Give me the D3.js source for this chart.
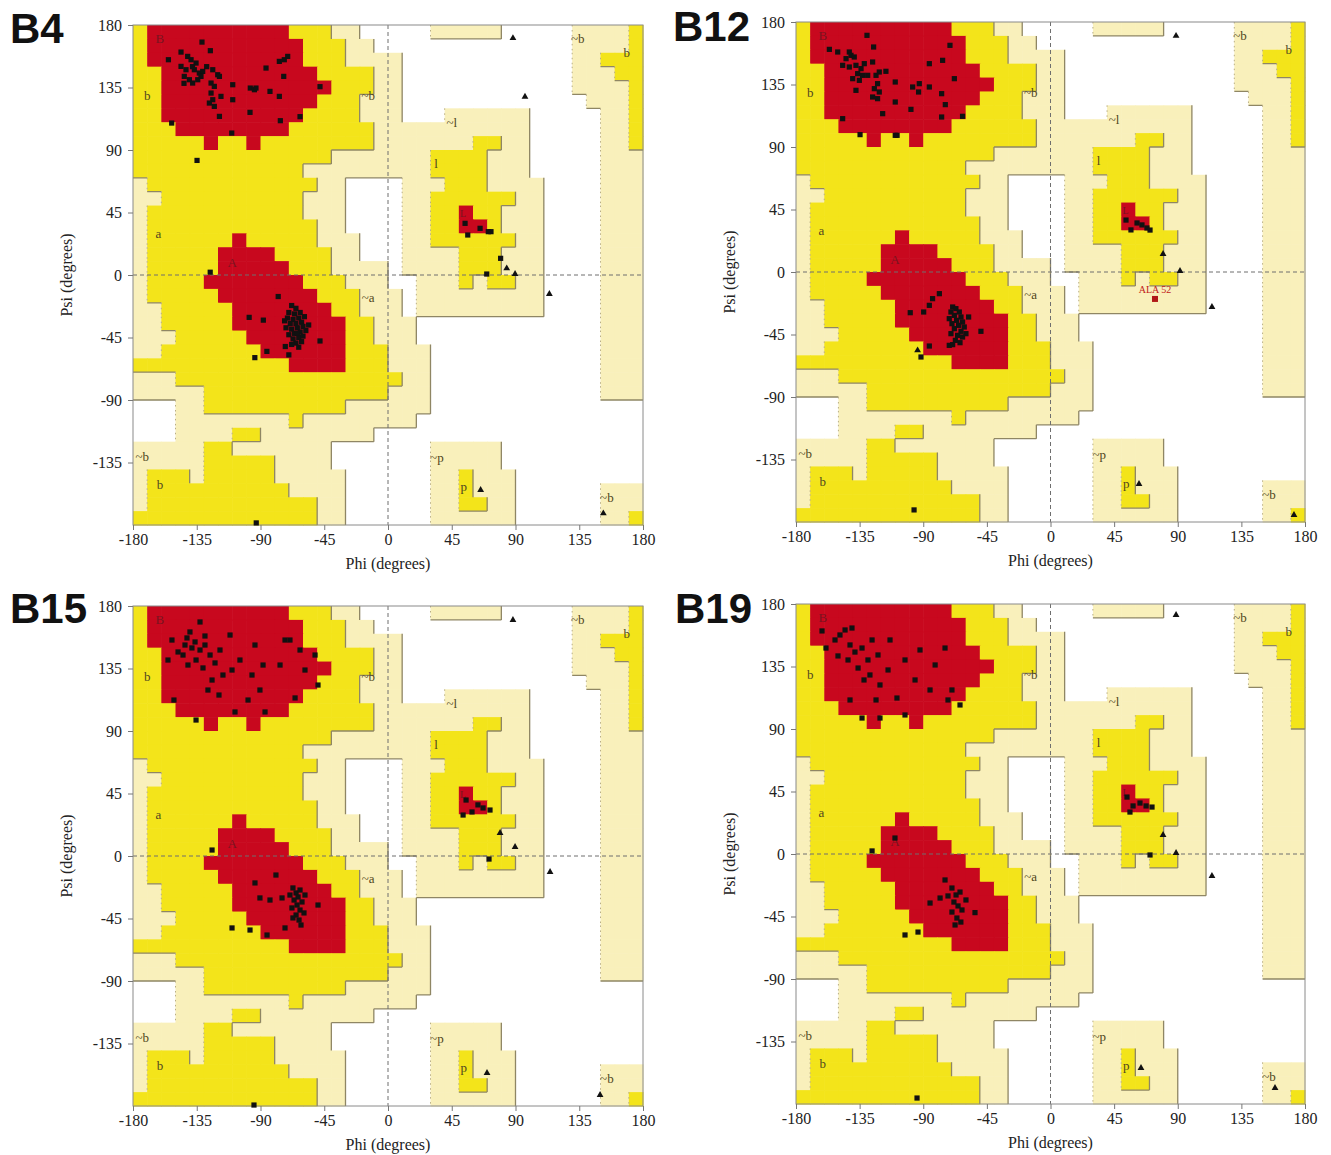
<!DOCTYPE html>
<html><head><meta charset="utf-8">
<script src="https://cdn.jsdelivr.net/npm/d3@7"></script>
<style>body{margin:0;background:#fff}svg{display:block}</style>
</head><body>
<svg id="c" width="1331" height="1155"></svg>
<script>
// ---------- data ----------
// Ramachandran region map, 10-degree cells, run-length coded.
// Rows: psi 180 -> -180, columns: phi -180 -> 180.
// '.' disallowed, 'g' generously allowed, 'y' additionally allowed, 'r' most favoured
const regionRows = [
"y1r10y3g2.5g5.5g4y1",
"y1r11y3g2.14g4y1",
"y1r11y3g4.12g2y3",
"y2r11y4g2.12g3y2",
"y2r12y3g2.12g4y1",
"y2r11y3g3.13g3y1",
"y2r10y4g3.3g6.5g2y1",
"y3r8y6g11.5g2y1",
"y5r1y2r1y8g7y2g2.5g2y1",
"y14g7y4g3.5g3",
"y12g9y4g3.5g3",
"g1y12g2.4g3y3g4.4g3",
"g2y10g3.4g2y6g2.4g3",
"g1y11g3.4g2y2r1y2g3.4g3",
"g1y12g2.4g2y2r2y1g3.4g3",
"g1y6r1y5g3.3g2y6g2.4g3",
"g1y5r4y4g2.3g4y3g3.4g3",
"g1y5r5y3g4.1g4y3g3.4g3",
"g1y4r7y3g3.2g3y1g1y2g2.4g3",
"g1y5r7y3g3.1g9.4g3",
"g2y5r7y2g3.1g9.4g3",
"g2y5r8y2g3.13g3",
"g3y5r7y2g3.13g3",
"g2y7r6y3g3.12g3",
"y11r4y3g3.12g3",
"g3y16g2.12g3",
"g5y13g3.12g3",
".3g2y10g6.15",
".3g8y1g8.16",
".3g4y2g8.19",
"g5y2g7.7g5.10",
"g5y5g4.7g5.10",
"g1y3g1y5g5.6g2y1g3.9",
"g1y10g4.6g2y1g3.6g3",
"g1y12g2.6g2y2g2.6g3",
"y13g2.6g6.6g2y1"
];

const phiTicks = [-180, -135, -90, -45, 0, 45, 90, 135, 180];
const psiTicks = [180, 135, 90, 45, 0, -45, -90, -135];

// region labels: [phi, psi, text]
const regionLabels = [
  [-161, 170.5, "B"], [-170, 129.5, "b"], [-162, 30, "a"], [-110, 9, "A"],
  [-14, 129.5, "~b"], [-14, -16, "~a"], [45, 110, "~l"], [34, 80.5, "l"],
  [53, 44.5, "L"], [34.5, -131.5, "~p"], [53.5, -152.5, "p"],
  [134, 170.5, "~b"], [168.5, 160, "b"], [154.5, -160.5, "~b"],
  [-173.5, -130.5, "~b"], [-161, -150.5, "b"]
];

// ---- B4 ----
const b4Residues = [
  [-131.3,167.7],[-125.4,161.5],[-146.1,160.5],[-155,155],[-141.4,157.4],[-139,155],[-135.5,152.6],
  [-146.1,150.2],[-142.6,147.8],[-136.7,147.8],[-133.2,145.4],[-130.8,146.6],[-143.8,143],[-140.2,140.6],
  [-137.9,138.2],[-134.3,140.6],[-132,143],[-123.7,147.8],[-124.9,138.2],[-122.6,135.8],[-120.2,144.2],
  [-119,143],[-124.9,131],[-123.7,126.2],[-126.1,123.8],[-122.6,121.4],[-117.9,128.6],[-119,114.2],
  [-109.6,137],[-109.6,126.2],[-97.2,134.6],[-94.3,133.4],[-93.2,134.6],[-86.1,149],[-83.3,132.2],
  [-76.7,128.6],[-76.7,153.8],[-73.2,155],[-70.8,157.4],[-73.6,143],[-97.4,117.1],[-76,111.1],
  [-110.3,102.2],[-152.7,109.4],[-134.8,82.5],[-62.1,114],[-48,135.6],[-138,150],[-128,150],[-144,138],
  [-68,-22],[-65,-24],[-70,-27],[-66,-28],[-62,-27],[-71,-31],[-67,-32],[-63,-31],[-59,-30],[-69,-35],
  [-65,-35],[-61,-34],[-72,-38],[-68,-39],[-64,-38],[-60,-37],[-66,-42],[-62,-41],[-70,-43],[-58,-40],
  [-67,-46],[-63,-45],[-60,-44],[-65,-49],[-61,-48],[-68,-50],[-63,-52],[-56,-36],[-73,-33],[-64,-42],
  [-77.5,-15.5],[-98,-30.5],[-88,-32.5],[-48,-47.5],[-85.5,-55],[-72.5,-51.5],[-70,-57.5],[-94,-59.5],
  [-125.5,2],[-93,-178.5],
  [54.4,37.2],[56.3,28.8],[65,33.6],[70.8,31.2],[72.7,31.2],[79.5,12],[69.7,0.7]
];
const b4Glycines = [[83.8,4.8],[89.7,0.7],[88.2,170.6],[96.7,128.4],[113.9,-13.7],[65.4,-154.8],[152,-171.6]];
const b4Outliers = [];

// ---- B12 ----
const b12Residues = [
  [-129.8,170.4],[-125.1,162],[-156.4,160.3],[-150.5,158.4],[-142.3,158.4],[-141.1,156],[-144.6,153.6],
  [-138.8,154.8],[-147,148.8],[-142.3,147.6],[-137.6,148.8],[-134,146.4],[-131.7,150],[-136.4,142.8],
  [-132.9,141.6],[-139.9,139.2],[-135.2,138],[-129.3,141.6],[-125.8,151.2],[-123.4,141.6],[-121.1,144],
  [-116.4,144.5],[-122.3,135.6],[-124.6,132],[-121.1,129.6],[-122.3,124.8],[-125.8,126],[-137.6,130.8],
  [-118.7,114],[-109.8,136.8],[-109.8,122.4],[-98.7,117.1],[-97.5,133.2],[-92.8,135.6],[-93.3,129.6],
  [-85.7,133.2],[-85.7,150],[-76.3,152.4],[-71.1,163.2],[-68,139.2],[-77,128.4],[-74.4,120.5],
  [-77,111.6],[-62.2,112.1],[-147,110.4],[-134.7,98.9],[-109.8,98.4],[-108.5,98.4],
  [-78.6,-15.6],[-83.4,-19.2],[-85.7,-24],[-89.7,-28.8],[-99.2,-29.3],[-57.9,-32.4],[-49.2,-42.7],
  [-85.7,-53.3],[-71.6,-52.8],[-91.6,-61.2],
  [-69.2,-25.2],[-66.9,-26.4],[-70.4,-28.8],[-64.5,-28.8],[-68,-31.2],[-63.3,-32.4],[-71.6,-33.6],
  [-66.4,-34.8],[-62.2,-36],[-69.7,-37.2],[-65,-38.4],[-61,-39.6],[-68,-40.8],[-63.3,-42.7],
  [-70.4,-44.4],[-65.7,-45.6],[-62.2,-46.8],[-67.3,-49.2],[-64,-50.9],[-69.2,-52.3],[-59.8,-44.4],
  [53.4,37.4],[56.9,30.3],[61.2,35.3],[64.7,33.9],[68.2,31.7],[70.4,30.2],[-96.5,-171.3]
];
const b12Glycines = [[-94,-56.4],[79.6,13],[91.6,0.7],[114.2,-25.2],[88.8,170],[62.6,-152.6],[172.2,-174.9]];
const b12Outliers = [[73.9,-19.4,"ALA 52"]];

// ---- B15 ----
const b15Residues = [
  [-132.7,168.5],[-139.8,161.3],[-129.2,158.4],[-152.5,155.5],[-143.3,151.9],[-138.4,149.8],[-132.7,148.3],
  [-125.6,144.7],[-135.5,141.1],[-141.2,137.5],[-148.2,146.9],[-155.3,141.1],[-130.6,135.4],[-122.1,139],
  [-118.6,148.3],[-116.5,130.3],[-124.2,126.7],[-127.1,119.5],[-119.3,115.9],[-110.1,133.9],[-104.5,141.1],
  [-96,130.3],[-90.4,119.5],[-98.8,112.3],[-88.2,137.5],[-76.2,137.5],[-69.2,155.5],[-62.1,148.3],
  [-51.5,144.7],[-58.6,133.9],[-65.6,113.8],[-49.4,123.1],[-151.1,112.3],[-135.5,97.9],[-108,103.7],
  [-86.8,103.7],[-72.7,155.5],[-111.5,159.1],[-93.9,151.9],[-144.7,144.7],[-136.2,154.1],[-141.9,157],
  [-129.2,151.9],
  [-124.2,4.3],[-67.1,-23],[-64.9,-26.6],[-62.1,-24.5],[-63.5,-29.5],[-66.3,-31.7],[-60.7,-33.1],
  [-64.2,-35.3],[-62.1,-38.9],[-67.8,-37.4],[-59.3,-41],[-64.9,-42.5],[-62.8,-46.1],[-67.1,-44.6],
  [-61.4,-49.7],[-58.6,-28.1],[-69.2,-28.1],[-74.8,-30.2],[-83.3,-31.7],[-90.4,-30.2],[-49.4,-35.3],
  [-97.4,-53.3],[-110.1,-51.8],[-85.4,-56.9],[-72.7,-51.8],[-79.1,-13.7],[-93.9,-19.4],
  [55.1,40.3],[59.3,31.7],[63.5,36.8],[67.1,34.6],[72,33.1],[53,29.5],[71.3,-2.2],[-94.6,-179.3]
];
const b15Glycines = [[79.1,16.6],[89.7,6.5],[114.4,-11.5],[88.2,169.9],[69.9,-156.2],[149.7,-172.1]];
const b15Outliers = [];

// ---- B19 ----
const b19Residues = [
  [-161.6,160.6],[-152.4,154.1],[-145.3,161.3],[-141.8,150.5],[-138.3,145.4],[-133.3,148.3],[-143.2,139.7],
  [-136.1,133.9],[-129.1,139.7],[-127.7,128.9],[-120.6,121.7],[-113.5,154.1],[-108.6,112.3],[-102.9,139.7],
  [-92.3,146.9],[-85.2,118.1],[-74.6,148.3],[-69.7,118.1],[-64,107.3],[-133.3,97.9],[-120.6,97.9],
  [-102.9,100.1],[-148.9,157.7],[-140.4,162.7],[-126.2,154.1],[-122,143.3],[-114.9,132.5],[-95.8,125.3],
  [-81.6,136.1],[-72.5,110.9],[-158.8,148.3],[-150.3,142.6],[-131.9,125.3],[-141.8,110.9],[-123.4,110.9],
  [-69.7,-24.5],[-66.8,-29.5],[-64,-27.4],[-68.3,-34.6],[-65.4,-37.4],[-62.6,-40.3],[-69.7,-41.8],
  [-66.2,-46.1],[-63.4,-49],[-59.8,-33.1],[-72.5,-30.2],[-67.5,-51.1],[-78.1,-31.7],[-85.2,-35.3],
  [-53.4,-42.2],[-93.7,-56.2],[-102.9,-58.3],[-126.2,2.2],[-110,11.5],[-74.6,-18.7],
  [54.1,41],[58.4,34.6],[63.3,36.7],[67.6,34.6],[71.8,33.8],[56.2,30.2],[70.4,-0.7],[-94.4,-175.7]
];
const b19Glycines = [[79.6,13.7],[88.8,0.7],[114.2,-15.8],[88.8,172.1],[64,-154.1],[158.8,-168.5]];
const b19Outliers = [];

// ---------- drawing ----------
const svg = d3.select("#c");
const fillOf = {".": "#ffffff", "g": "#f9f0bb", "y": "#f3e41a", "r": "#c8081e"};
const levelOf = {".": 0, "g": 1, "y": 2, "r": 3};
const grid = regionRows.map(r => {
  const out = [];
  for (const m of r.matchAll(/([.gyr])(\d+)/g)) for (let k = 0; k < +m[2]; k++) out.push(m[1]);
  while (out.length < 36) out.push(".");
  return out.slice(0, 36);
});

const panels = [
  {name: "B4",  left: 133, top: 25,  w: 510, h: 500, tx: 10,  ty: 43,  res: b4Residues,  gly: b4Glycines,  out: b4Outliers},
  {name: "B12", left: 796, top: 22,  w: 509, h: 500, tx: 673, ty: 41,  res: b12Residues, gly: b12Glycines, out: b12Outliers},
  {name: "B15", left: 133, top: 606, w: 510, h: 500, tx: 10,  ty: 623, res: b15Residues, gly: b15Glycines, out: b15Outliers},
  {name: "B19", left: 796, top: 604, w: 509, h: 500, tx: 675, ty: 623, res: b19Residues, gly: b19Glycines, out: b19Outliers}
];

const serif = "'Liberation Serif','Times New Roman',serif";

panels.forEach(p => {
  const x = d3.scaleLinear().domain([-180, 180]).range([p.left, p.left + p.w]);
  const y = d3.scaleLinear().domain([-180, 180]).range([p.top + p.h, p.top]);
  const g = svg.append("g");

  const cells = [];
  grid.forEach((row, j) => row.forEach((c, i) => cells.push({i, j, c})));
  g.append("g").selectAll("rect").data(cells).join("rect")
    .attr("x", d => x(-180 + 10 * d.i))
    .attr("y", d => y(180 - 10 * d.j))
    .attr("width", d => x(-170 + 10 * d.i) - x(-180 + 10 * d.i) + 0.6)
    .attr("height", d => y(170 - 10 * d.j) - y(180 - 10 * d.j) + 0.6)
    .attr("fill", d => fillOf[d.c]);

  let solid = "", dotted = "";
  grid.forEach((row, j) => row.forEach((c, i) => {
    const L = levelOf[c];
    if (L === 0 || L === 3) return;
    const x0 = x(-180 + 10 * i), x1 = x(-170 + 10 * i);
    const y0 = y(180 - 10 * j), y1 = y(170 - 10 * j);
    if (j < 35 && levelOf[grid[j + 1][i]] < L) solid += `M${x0},${y1}H${x1}`;
    if (i < 35 && levelOf[grid[j][i + 1]] < L) solid += `M${x1},${y0}V${y1}`;
    if (i > 0 && levelOf[grid[j][i - 1]] < L) dotted += `M${x0},${y0}V${y1}`;
  }));
  g.append("path").attr("d", solid).attr("fill", "none").attr("stroke", "#8f8664").attr("stroke-width", 1.3);
  g.append("path").attr("d", dotted).attr("fill", "none").attr("stroke", "#b9ae84").attr("stroke-width", 1).attr("stroke-dasharray", "1.5,3.5");

  g.append("line").attr("x1", x(0)).attr("x2", x(0)).attr("y1", y(180)).attr("y2", y(-180))
    .attr("stroke", "#6f6f6f").attr("stroke-width", 1).attr("stroke-dasharray", "4,3");
  g.append("line").attr("x1", x(-180)).attr("x2", x(180)).attr("y1", y(0)).attr("y2", y(0))
    .attr("stroke", "#6f6f6f").attr("stroke-width", 1).attr("stroke-dasharray", "4,3");

  g.append("g").selectAll("text").data(regionLabels).join("text")
    .attr("x", d => x(d[0])).attr("y", d => y(d[1]))
    .attr("text-anchor", "middle").attr("dominant-baseline", "central")
    .attr("font-family", serif).attr("font-size", d => d[2] === "L" ? 10 : 13)
    .attr("fill", d => (d[2] === "A" || d[2] === "B" || d[2] === "L") ? "#7a1420" : "#4f4520")
    .text(d => d[2]);

  g.append("rect").attr("x", x(-180)).attr("y", y(180)).attr("width", x(180) - x(-180)).attr("height", y(-180) - y(180))
    .attr("fill", "none").attr("stroke", "#8a8a8a").attr("stroke-width", 1);

  const ax = g.append("g").attr("transform", `translate(0,${y(-180)})`)
    .call(d3.axisBottom(x).tickValues(phiTicks).tickSize(5).tickPadding(4).tickFormat(d => String(d)));
  const ay = g.append("g").attr("transform", `translate(${x(-180)},0)`)
    .call(d3.axisLeft(y).tickValues(psiTicks).tickSize(5).tickPadding(6).tickFormat(d => String(d)));
  [ax, ay].forEach(a => {
    a.select(".domain").remove();
    a.selectAll("line").attr("stroke", "#777");
    a.selectAll("text").attr("font-family", serif).attr("font-size", 16).attr("fill", "#222");
  });

  g.append("text").attr("x", (x(-180) + x(180)) / 2).attr("y", y(-180) + 44)
    .attr("text-anchor", "middle").attr("font-family", serif).attr("font-size", 16).attr("fill", "#222")
    .text("Phi (degrees)");
  g.append("text").attr("transform", `translate(${x(-180) - 61},${(y(180) + y(-180)) / 2}) rotate(-90)`)
    .attr("text-anchor", "middle").attr("font-family", serif).attr("font-size", 16).attr("fill", "#222")
    .text("Psi (degrees)");

  g.append("g").selectAll("rect").data(p.res).join("rect")
    .attr("x", d => x(d[0]) - 2.6).attr("y", d => y(d[1]) - 2.6)
    .attr("width", 5.2).attr("height", 5.2).attr("fill", "#111");
  g.append("g").selectAll("path").data(p.gly).join("path")
    .attr("transform", d => `translate(${x(d[0])},${y(d[1])})`)
    .attr("d", d3.symbol(d3.symbolTriangle, 20)).attr("fill", "#111");
  const o = g.append("g").selectAll("g").data(p.out).join("g");
  o.append("rect").attr("x", d => x(d[0]) - 3).attr("y", d => y(d[1]) - 3)
    .attr("width", 6).attr("height", 6).attr("fill", "#b01818");
  o.append("text").attr("x", d => x(d[0])).attr("y", d => y(d[1]) - 6)
    .attr("text-anchor", "middle").attr("font-family", serif).attr("font-size", 10).attr("fill", "#c01818")
    .text(d => d[2]);

  svg.append("text").attr("x", p.tx).attr("y", p.ty)
    .attr("font-family", "'Liberation Sans',Arial,sans-serif").attr("font-weight", "bold")
    .attr("font-size", 42).attr("fill", "#111").text(p.name);
});
</script>
</body></html>
